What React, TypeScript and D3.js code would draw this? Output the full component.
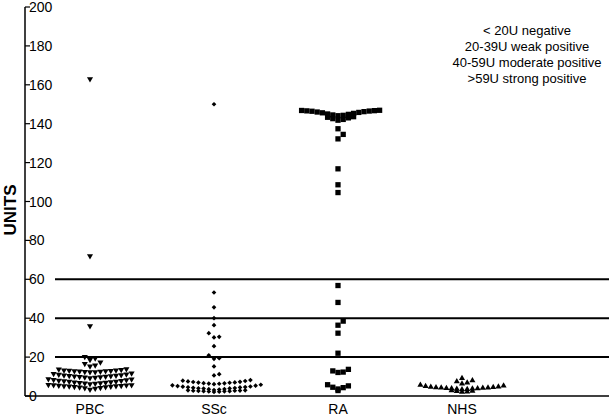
import React from "react";
import * as d3 from "d3";

// Antibody levels (units) per patient group
const categories = ["PBC", "SSc", "RA", "NHS"];

const pbcValues = [
  163, 72, 36,
  18.6, 19.4, 20.2,
  15.3, 15.8, 16.6, 17.3,
  12.3, 12.4, 12.5, 12.6, 12.7, 12.8, 12.9, 13.0, 13.1, 13.2, 13.3, 13.5, 13.7, 13.9,
  9.3, 9.5, 9.6, 9.8, 9.9, 10.0, 10.1, 10.3, 10.4, 10.5, 10.7, 10.8, 11.0, 11.2, 11.4, 11.7,
  6.2, 6.4, 6.5, 6.7, 6.8, 7.0, 7.1, 7.2, 7.4, 7.5, 7.7, 7.8, 8.0, 8.2, 8.4, 8.6, 8.8,
  3.4, 3.8, 4.1, 4.3, 4.5, 4.6, 4.8, 4.9, 5.0, 5.1, 5.2, 5.3, 5.4, 5.5, 5.6, 5.7, 5.8,
];

const sscValues = [
  150, 53.2, 45.6, 40.0, 36.4, 32.3, 30.1, 30.4, 25.6, 20.9, 19.1, 19.4, 15.2, 10.6, 11.2,
  6.1, 6.3, 6.4, 6.5, 6.6, 6.8, 6.9, 7.0, 7.2, 7.3, 7.5, 7.7, 7.9, 8.2,
  3.1, 3.3, 3.5, 3.6, 3.8, 3.9, 4.0, 4.1, 4.2, 4.4, 4.5, 4.6, 4.8, 4.9, 5.1, 5.3, 5.5, 5.8,
  2.1, 2.2, 2.3, 2.4, 2.5, 2.5, 2.6, 2.7, 2.7, 2.8, 2.9, 2.9,
];

const raValues = [
  144.1, 144.3, 144.5, 144.8, 145.0, 145.3, 145.6, 145.8,
  146.0, 146.2, 146.4, 146.5, 146.6, 146.7, 146.8, 146.9,
  141.8, 142.2, 142.6, 143.0, 143.3, 143.6,
  137.4, 134.5, 132.2, 116.8, 108.6, 104.6,
  56.8, 48.1, 38.5, 36.4, 32.3, 22.0,
  12.1, 12.3, 12.9, 13.7,
  3.6, 4.3, 4.5, 5.2, 5.8, 2.8,
];

const nhsValues = [
  2.0, 2.2, 2.4, 2.6, 2.8,
  3.4, 3.5, 3.6, 3.7, 3.8, 3.9, 4.0, 4.1, 4.2, 4.3, 4.4, 4.5, 4.6, 4.8, 5.0, 5.3, 5.6,
  6.3, 6.8, 7.4, 8.0,
  9.1,
];

const groupValues = [pbcValues, sscValues, raValues, nhsValues];

const yTicks = [0, 20, 40, 60, 80, 100, 120, 140, 160, 180, 200];
const cutoffs = [20, 40, 60];
const legendLines = [
  "< 20U negative",
  "20-39U weak positive",
  "40-59U moderate positive",
  ">59U strong positive",
];

const W = 609;
const H = 416;
const FONT = "'Liberation Sans', Arial, Helvetica, sans-serif";

const y = d3.scaleLinear().domain([0, 200]).range([396, 7]);
const x = d3.scalePoint<string>().domain(categories).range([90, 462]);
const axisX = 25;
const BIN_UNITS = 3; // values sharing a 3-unit bin are spread sideways
const SPACING = 5.2; // horizontal distance between neighbouring symbols

type Pt = { v: number; x: number; y: number };

// Column scatter: values are grouped into bins; inside a bin the points keep
// their own height and are laid out from the centre outwards, lowest first
// (centre, right, left, 2 right, 2 left, ...).
function columnScatter(vals: number[], cx: number): Pt[] {
  const bins = d3.group(vals, (v) => Math.floor(v / BIN_UNITS + 1e-9));
  const pts: Pt[] = [];
  for (const [, members] of bins) {
    const sorted = [...members].sort((a, b) => a - b);
    sorted.forEach((v, i) => {
      const k = Math.ceil(i / 2);
      const sign = i % 2 === 1 ? 1 : -1;
      pts.push({ v, x: cx + (i === 0 ? 0 : sign * k * SPACING), y: y(v) });
    });
  }
  return pts;
}

const symbols = [
  { type: d3.symbolTriangle, size: 16, rotate: 180 },
  { type: d3.symbolDiamond2, size: 14, rotate: 0 },
  { type: d3.symbolSquare, size: 28, rotate: 0 },
  { type: d3.symbolTriangle, size: 16, rotate: 0 },
];

export default function App() {
  const layouts = groupValues.map((vals, i) =>
    columnScatter(vals, x(categories[i]) as number)
  );

  return (
    <svg
      width={W}
      height={H}
      style={{ position: "absolute", left: 0, top: 0, background: "#fff" }}
      fontFamily={FONT}
    >
      <rect width={W} height={H} fill="#fff" />

      {/* cut-off lines */}
      {cutoffs.map((c) => (
        <line
          key={c}
          x1={55}
          x2={W}
          y1={y(c)}
          y2={y(c)}
          stroke="#000"
          strokeWidth={2}
        />
      ))}

      {/* y axis */}
      <line x1={axisX} x2={axisX} y1={y(200)} y2={y(0)} stroke="#000" strokeWidth={1.5} />
      {yTicks.map((t) => (
        <g key={t}>
          <line x1={axisX} x2={axisX + 5} y1={y(t)} y2={y(t)} stroke="#000" strokeWidth={1.2} />
          <text x={axisX + 4} y={y(t)} dy="0.36em" fontSize={14} fill="#000">
            {t}
          </text>
        </g>
      ))}
      <text
        transform={`translate(16,210) rotate(-90)`}
        textAnchor="middle"
        fontSize={17}
        fontWeight="bold"
        fill="#000"
      >
        UNITS
      </text>

      {/* x axis */}
      <line x1={axisX} x2={W} y1={y(0)} y2={y(0)} stroke="#000" strokeWidth={1.5} />
      {categories.map((c) => (
        <text key={c} x={x(c)} y={414} textAnchor="middle" fontSize={14} fill="#000">
          {c}
        </text>
      ))}

      {/* data points */}
      {layouts.map((pts, i) => {
        const s = symbols[i];
        const path = d3.symbol().type(s.type).size(s.size)() as string;
        return (
          <g key={categories[i]}>
            {pts.map((p, j) => (
              <path
                key={j}
                d={path}
                transform={`translate(${p.x},${p.y}) rotate(${s.rotate})`}
                fill="#000"
              />
            ))}
          </g>
        );
      })}

      {/* legend */}
      {legendLines.map((l, i) => (
        <text key={i} x={527} y={35 + i * 16} textAnchor="middle" fontSize={13} fill="#000">
          {l}
        </text>
      ))}
    </svg>
  );
}
